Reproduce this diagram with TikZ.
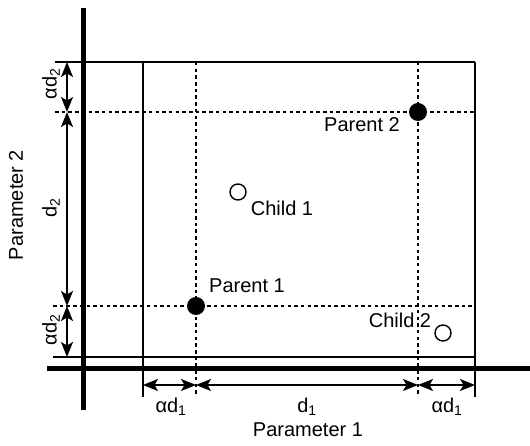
\documentclass[tikz,border=0pt]{standalone}
\usepackage{fontspec}
\setmainfont{Liberation Sans}
\usetikzlibrary{arrows.meta}
\newcommand{\sbs}[1]{\textsubscript{#1}}

\begin{document}
\begin{tikzpicture}[x=1pt,y=1pt,font=\fontsize{20}{24}\selectfont,
    axis/.style={line width=5pt},
    frame/.style={line width=1.6pt},
    gridline/.style={line width=1.8pt,dash pattern=on 3.5pt off 3.2pt},
    dim/.style={line width=1.6pt,{Stealth[length=15pt,width=12pt,inset=3.5pt]}-{Stealth[length=15pt,width=12pt,inset=3.5pt]}},
    parent/.style={circle,fill=black,inner sep=0pt,minimum size=18pt},
    child/.style={circle,draw,line width=1.4pt,inner sep=0pt,minimum size=16pt}]
    \useasboundingbox (0,0) rectangle (530,446);
   %\draw[help lines,step=10] (0,0) grid (530,446);
    % search window
    \draw[frame] (55,384) -- (475,384);
    \draw[frame] (53,89) -- (475,89);
    \draw[frame] (475,384) -- (475,49);
    \draw[frame] (143,384) -- (143,49);
    \draw[gridline] (55,334) -- (475,334);
    \draw[gridline] (53,140) -- (475,140);
    \draw[gridline] (196,384) -- (196,49);
    \draw[gridline] (418,384) -- (418,49);
    % axes
    \draw[axis] (83,438) -- (83,36);
    \draw[axis] (47,77) -- (530,77);
    % individuals
    \node[parent] (p1) at (196,140) {};
    \node[parent] (p2) at (418,334) {};
    \node[child] (c1) at (238,254) {};
    \node[child] (c2) at (443,113) {};
    \node (p1lbl) at (247,160) {Parent 1};
    \node (p2lbl) at (362,321) {Parent 2};
    \node (c1lbl) at (282,238) {Child 1};
    \node (c2lbl) at (400,126) {Child 2};
    % dimensions
    \coordinate (y0) at (67,384);
    \coordinate (y1) at (67,334);
    \coordinate (y2) at (67,140);
    \coordinate (y3) at (67,89);
    \coordinate (x0) at (143,61);
    \coordinate (x1) at (196,61);
    \coordinate (x2) at (418,61);
    \coordinate (x3) at (475,61);
    \draw[dim] (y0) -- (y1);
    \draw[dim] (y1) -- (y2);
    \draw[dim] (y2) -- (y3);
    \draw[dim] (x0) -- (x1);
    \draw[dim] (x1) -- (x2);
    \draw[dim] (x2) -- (x3);
    \node[rotate=90] (ad2top) at (51,362) {αd\sbs{2}};
    \node[rotate=90] (d2) at (51,238) {d\sbs{2}};
    \node[rotate=90] (ad2bot) at (51,116) {αd\sbs{2}};
    \node (ad1left) at (171,39) {αd\sbs{1}};
    \node (d1) at (307,39) {d\sbs{1}};
    \node (ad1right) at (447,39) {αd\sbs{1}};
    \node (xlabel) at (308,16) {Parameter 1};
    \node[rotate=90] (ylabel) at (16,241) {Parameter 2};
\end{tikzpicture}
\end{document}
